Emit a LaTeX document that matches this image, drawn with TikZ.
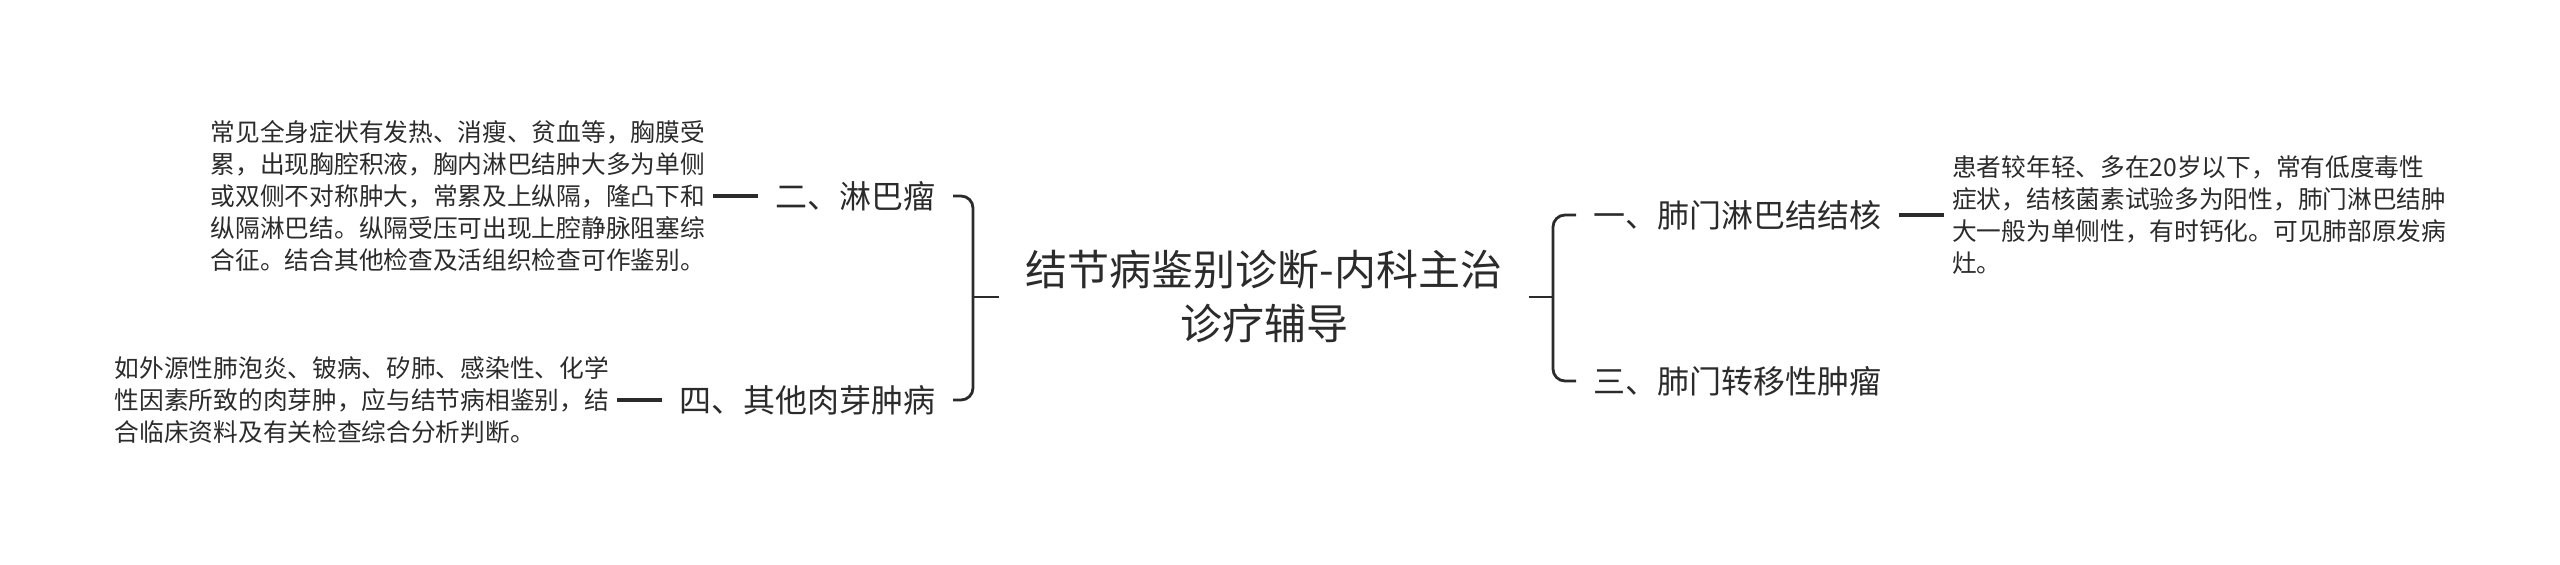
\documentclass[tikz,border=0pt]{standalone}
\usepackage{fontspec}
\setmainfont{Noto Sans CJK SC}
\usetikzlibrary{positioning}
\definecolor{ink}{HTML}{2B2B2B}
\begin{document}
\begin{tikzpicture}[x=0.5pt,y=-0.5pt,
  every node/.style={text=ink},
  root/.style={font=\fontsize{21}{27}\selectfont, align=center, inner xsep=13pt, inner ysep=4pt},
  branch/.style={font=\fontsize{16}{20}\selectfont, inner xsep=8.5pt, inner ysep=3pt},
  desc/.style={font=\fontsize{12.35}{16}\selectfont, align=left, inner xsep=4pt},
  link/.style={draw=ink, line width=2pt},
  brace/.style={draw=ink, line width=1.4pt, rounded corners=6pt},
  node distance=22.5pt]
\useasboundingbox (0,0) rectangle (2560,565);
\node[root] (root) at (1264,297) {结节病鉴别诊断-内科主治\\诊疗辅导};
\node[branch, anchor=east] (b2) at (953,196) {二、淋巴瘤};
\node[branch, anchor=east] (b4) at (953,400) {四、其他肉芽肿病};
\node[branch, anchor=west] (b1) at (1576,215) {一、肺门淋巴结结核};
\node[branch, anchor=west] (b3) at (1576,381) {三、肺门转移性肿瘤};
\node[desc, left=of b2] (d2) {常见全身症状有发热、消瘦、贫血等，胸膜受\\累，出现胸腔积液，胸内淋巴结肿大多为单侧\\或双侧不对称肿大，常累及上纵隔，隆凸下和\\纵隔淋巴结。纵隔受压可出现上腔静脉阻塞综\\合征。结合其他检查及活组织检查可作鉴别。};
\node[desc, left=of b4] (d4) {如外源性肺泡炎、铍病、矽肺、感染性、化学\\性因素所致的肉芽肿，应与结节病相鉴别，结\\合临床资料及有关检查综合分析判断。};
\node[desc, right=of b1] (d1) {患者较年轻、多在20岁以下，常有低度毒性\\症状，结核菌素试验多为阳性，肺门淋巴结肿\\大一般为单侧性，有时钙化。可见肺部原发病\\灶。};
\coordinate (lj) at (973,297);
\coordinate (rj) at (1553,297);
\draw[brace] (root.west) -- (lj);
\draw[brace] (lj) |- (b2.east);
\draw[brace] (lj) |- (b4.east);
\draw[brace] (root.east) -- (rj);
\draw[brace] (rj) |- (b1.west);
\draw[brace] (rj) |- (b3.west);
\draw[link] (d2) -- (b2);
\draw[link] (d4) -- (b4);
\draw[link] (b1) -- (d1);
\end{tikzpicture}
\end{document}
